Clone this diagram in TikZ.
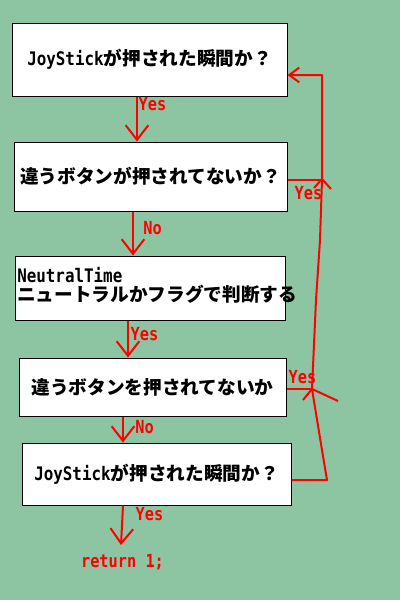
\documentclass[tikz,border=0pt]{standalone}
\usepackage{fontspec}
\newfontfamily\jp{Noto Sans CJK JP}
\newfontfamily\mono{DejaVu Sans Mono}[FakeStretch=0.85]
\usetikzlibrary{arrows.meta}
\definecolor{bg}{RGB}{141,197,163}
\definecolor{rd}{RGB}{255,0,0}
\newcommand{\lat}[1]{{\mono\bfseries\fontsize{14}{16}\selectfont #1}}
\begin{document}
\begin{tikzpicture}[x=0.75pt,y=-0.75pt,
  box/.style={draw=black,line width=0.75pt,fill=white,inner sep=0pt,
    font=\jp\bfseries\fontsize{14}{16}\selectfont},
  jtext/.style={inner sep=0pt,font=\jp\bfseries\fontsize{14}{16}\selectfont},
  lbl/.style={text=rd,inner sep=0pt,font=\mono\bfseries\fontsize{13.5}{15}\selectfont},
  flow/.style={draw=rd,line width=1.5pt,line join=round},
  tip/.style={-{Straight Barb[length=11pt,width=17pt,line width=1.5pt]}},
  smalltip/.style={-{Straight Barb[length=7.5pt,width=11pt,line width=1.5pt]}}]
\fill[bg] (0,0) rectangle (400,600);
\useasboundingbox (0,0) rectangle (400,600);

% boxes
\node[box,minimum width=206.25pt,minimum height=54.75pt] (b1) at (149.5,59.5)
  {\lat{JoyStick}が押された瞬間か？};
\node[box,minimum width=204.75pt,minimum height=51.75pt] (b2) at (150.5,176.5)
  {違うボタンが押されてないか？};
\node[box,minimum width=202.5pt,minimum height=48pt] (b3) at (150,288) {};
\node[inner sep=0pt,anchor=base west] (t3a) at (17,282.5) {\lat{NeutralTime}};
\node[jtext,anchor=base west] (t3b) at (17,301.5) {ニュートラルかフラグで判断する};
\node[box,minimum width=200.25pt,minimum height=43.5pt] (b4) at (152.5,387)
  {違うボタンを押されてないか};
\node[box,minimum width=201.75pt,minimum height=46.5pt] (b5) at (156.5,474)
  {\lat{JoyStick}が押された瞬間か？};

% column coordinates
\coordinate (c1) at (137,0);
\coordinate (c2) at (133,0);
\coordinate (c3) at (128,0);
\coordinate (c4) at (123,0);
\coordinate (e5) at (121,545);
\coordinate (y1) at (0,75);
\coordinate (y2) at (0,180);
\coordinate (y4) at (0,389);
\coordinate (y5) at (0,480);

% down arrows
\draw[flow,tip] (b1.south -| c1) -- (b2.north -| c1);
\draw[flow,tip] (b2.south -| c2) -- (b3.north -| c2);
\draw[flow,tip] (b3.south -| c3) -- (b4.north -| c3);
\draw[flow,tip] (b4.south -| c4) -- (b5.north -| c4);
\draw[flow,tip] (b5.south -| c4) -- (e5);

% feedback loop
\draw[flow,smalltip] (b5.east |- y5) -- (327,480) -- (322,450) -- (312,389)
  -- (316,300) -- (320,240) -- (322,180) -- (322,75) -- (b1.east |- y1);
\draw[flow] (b2.east |- y2) -- (322,180);
\draw[flow] (314,188) -- (322,179) -- (331,189);
\draw[flow] (b4.east |- y4) -- (312,389);
\draw[flow] (303,400) -- (312,389) -- (338,401);

% labels
\node[lbl] (l1) at (152.5,104) {Yes};
\node[lbl] (l2) at (152.5,228) {No};
\node[lbl] (l3) at (144.5,334) {Yes};
\node[lbl] (l4) at (144.5,427) {No};
\node[lbl] (l5) at (149.5,514) {Yes};
\node[lbl] (l6) at (308.5,193) {Yes};
\node[lbl] (l7) at (302.5,377) {Yes};
\node[lbl] (ret) at (122.5,562) {return 1;};
\end{tikzpicture}
\end{document}
